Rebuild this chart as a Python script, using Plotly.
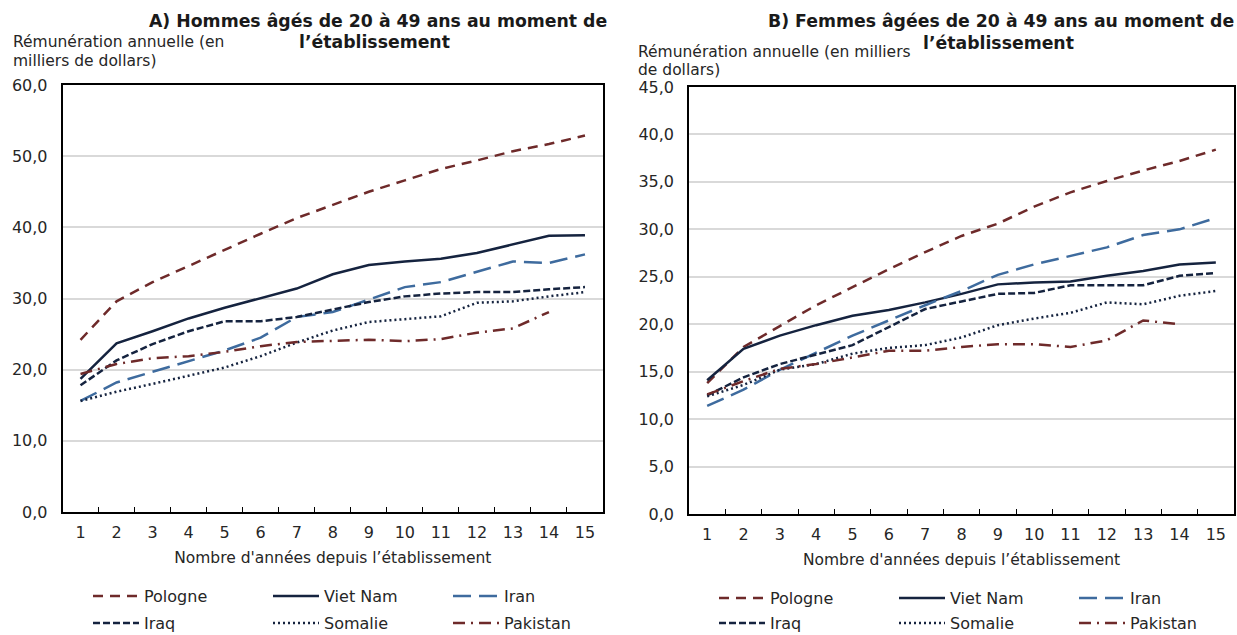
import plotly.graph_objects as go

years = [str(i) for i in range(1, 16)]

series_names = ["Pologne", "Viet Nam", "Iran", "Iraq", "Somalie", "Pakistan"]

pologne_a = [24.2, 29.6, 32.3, 34.6, 36.8, 39.1, 41.3, 43.2, 45.0, 46.6, 48.2, 49.4, 50.7, 51.7, 52.9]
vietnam_a = [18.7, 23.7, 25.4, 27.2, 28.7, 30.0, 31.4, 33.4, 34.7, 35.2, 35.6, 36.4, 37.6, 38.8, 38.9]
iran_a = [15.6, 18.2, 19.7, 21.2, 22.7, 24.5, 27.4, 28.1, 29.8, 31.6, 32.3, 33.8, 35.2, 35.0, 36.2]
iraq_a = [17.8, 21.3, 23.6, 25.4, 26.8, 26.8, 27.4, 28.4, 29.5, 30.3, 30.7, 30.9, 30.9, 31.3, 31.6]
somalie_a = [15.6, 16.9, 18.0, 19.2, 20.3, 21.9, 23.8, 25.5, 26.7, 27.1, 27.5, 29.4, 29.6, 30.3, 30.9]
pakistan_a = [19.4, 20.8, 21.6, 21.9, 22.5, 23.3, 23.9, 24.1, 24.2, 24.0, 24.3, 25.2, 25.8, 28.1]

pologne_b = [13.8, 17.6, 19.8, 22.0, 23.9, 25.8, 27.6, 29.3, 30.6, 32.4, 33.9, 35.1, 36.2, 37.2, 38.4]
vietnam_b = [14.1, 17.4, 18.8, 19.9, 20.9, 21.5, 22.3, 23.2, 24.2, 24.4, 24.5, 25.1, 25.6, 26.3, 26.5]
iran_b = [11.4, 13.1, 15.2, 17.0, 18.8, 20.4, 22.0, 23.5, 25.2, 26.3, 27.2, 28.1, 29.4, 30.0, 31.2]
iraq_b = [12.5, 14.4, 15.8, 16.8, 17.8, 19.7, 21.6, 22.4, 23.2, 23.3, 24.1, 24.1, 24.1, 25.1, 25.4]
somalie_b = [12.4, 13.6, 15.2, 15.8, 16.9, 17.5, 17.8, 18.6, 19.9, 20.6, 21.2, 22.3, 22.1, 23.0, 23.5]
pakistan_b = [12.6, 14.0, 15.3, 15.8, 16.5, 17.2, 17.2, 17.6, 17.9, 17.9, 17.6, 18.3, 20.4, 20.0]

title_a = ["A) Hommes âgés de 20 à 49 ans au moment de", "l’établissement"]
title_b = ["B) Femmes âgées de 20 à 49 ans au moment de", "l’établissement"]
ytitle_a = ["Rémunération annuelle (en", "milliers de dollars)"]
ytitle_b = ["Rémunération annuelle (en milliers", "de dollars)"]
xtitle = "Nombre d'années depuis l’établissement"

RED = "#6E2A2A"
NAVY = "#15233F"
BLUE = "#3E6B9E"
styles = {
    "Pologne": dict(color=RED, dash="10px,7px"),
    "Viet Nam": dict(color=NAVY, dash="solid"),
    "Iran": dict(color=BLUE, dash="18px,8px"),
    "Iraq": dict(color=NAVY, dash="7px,3px"),
    "Somalie": dict(color=NAVY, dash="2px,3px"),
    "Pakistan": dict(color=RED, dash="12px,6px,2px,6px"),
}

FONT = "DejaVu Sans"
TXT = "#262626"
W, H = 1237, 635


def px(sx):
    return sx / W


def py(sy):
    return 1 - sy / H


fig = go.Figure()

panel_a = [pologne_a, vietnam_a, iran_a, iraq_a, somalie_a, pakistan_a]
panel_b = [pologne_b, vietnam_b, iran_b, iraq_b, somalie_b, pakistan_b]

for p, (data, xa, ya, legs) in enumerate([
    (panel_a, "x", "y", ("legend", "legend2")),
    (panel_b, "x2", "y2", ("legend3", "legend4")),
]):
    for i, (name, vals) in enumerate(zip(series_names, data)):
        st = styles[name]
        fig.add_trace(go.Scatter(
            x=years[:len(vals)], y=vals, name=name, mode="lines",
            line=dict(color=st["color"], dash=st["dash"], width=2.5),
            xaxis=xa, yaxis=ya, legend=legs[0] if i < 3 else legs[1],
            hoverinfo="x+y+name",
        ))

axis_common = dict(
    showline=True, linecolor="#000000", linewidth=1.5, mirror=True,
    tickfont=dict(family=FONT, size=16, color=TXT),
    automargin=False,
)

leg_common = dict(
    orientation="h", entrywidth=119, entrywidthmode="pixels",
    font=dict(family=FONT, size=16, color=TXT),
    bgcolor="rgba(0,0,0,0)", xanchor="left", yanchor="middle",
    tracegroupgap=0, itemwidth=46,
)

xaxis_common = dict(
    type="category", range=[-0.5, 14.5],
    ticks="inside", tickson="boundaries", ticklen=5, tickcolor="#000",
    ticklabelstandoff=5, showgrid=False,
    title=dict(text=xtitle, standoff=11, font=dict(family=FONT, size=15.5, color=TXT)),
)
yaxis_common = dict(
    tickformat=".1f", showgrid=True, gridcolor="#D9D9D9", gridwidth=1.5,
    ticks="", ticklabelstandoff=10,
)

fig.update_layout(
    width=W, height=H,
    margin=dict(l=0, r=0, t=0, b=0, pad=0, autoexpand=False),
    paper_bgcolor="white", plot_bgcolor="white",
    separators=", ",
    font=dict(family=FONT, size=16, color=TXT),
    showlegend=True,
    xaxis=dict(domain=[px(62.5), px(603)], anchor="y", **xaxis_common, **axis_common),
    yaxis=dict(domain=[py(512), py(85)], anchor="x", range=[0, 60], dtick=10,
               **yaxis_common, **axis_common),
    xaxis2=dict(domain=[px(689), px(1234)], anchor="y2", **xaxis_common, **axis_common),
    yaxis2=dict(domain=[py(514), py(87)], anchor="x2", range=[0, 45], dtick=5,
                **yaxis_common, **axis_common),
    legend=dict(x=px(88), y=py(596), **leg_common),
    legend2=dict(x=px(88), y=py(623), **leg_common),
    legend3=dict(x=px(714), y=py(598), **leg_common),
    legend4=dict(x=px(714), y=py(623), **leg_common),
)

annotations = []


def add_text(text, x, y, size=15.5, bold=False, xanchor="center"):
    annotations.append(dict(
        text=text, x=px(x), y=py(y), xref="paper", yref="paper",
        showarrow=False, xanchor=xanchor, yanchor="middle",
        font=dict(family=FONT, size=size, color="#1a1a1a" if bold else TXT,
                  weight="bold" if bold else "normal"),
    ))


add_text(title_a[0], 378, 21, size=17.3, bold=True)
add_text(title_a[1], 374, 42, size=17.3, bold=True)
add_text(title_b[0], 1001, 21, size=17.3, bold=True)
add_text(title_b[1], 999, 43, size=17.3, bold=True)
add_text(ytitle_a[0], 11, 42, xanchor="left")
add_text(ytitle_a[1], 11, 61, xanchor="left")
add_text(ytitle_b[0], 636, 52, xanchor="left")
add_text(ytitle_b[1], 636, 70, xanchor="left")

fig.update_layout(annotations=annotations)

fig.write_html(
    "out.html",
    config={"displayModeBar": False},
    post_script="document.body.style.margin='0';document.body.style.overflow='hidden';",
)
